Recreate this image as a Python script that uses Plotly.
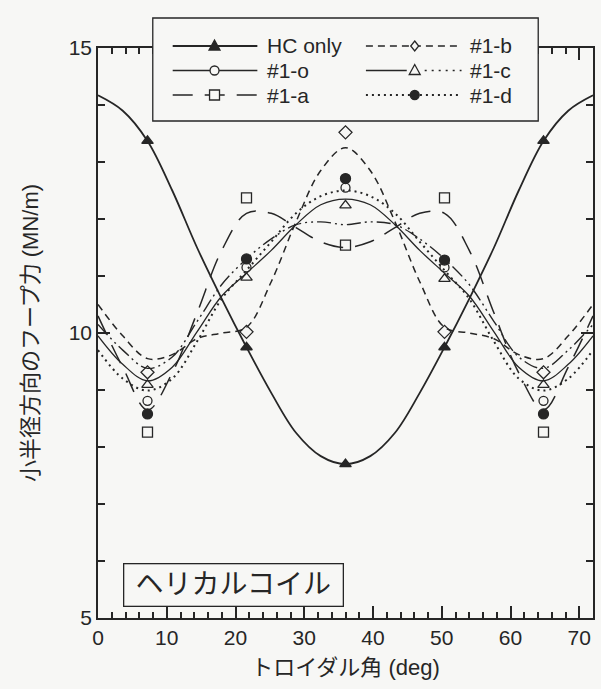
import plotly.graph_objects as go

# Toroidal angle grid for the smooth curves (deg)
angle_line = [0, 3.6, 7.2, 10.8, 14.4, 18, 21.6, 25.2, 28.8, 32.4, 36,
              39.6, 43.2, 46.8, 50.4, 54, 57.6, 61.2, 64.8, 68.4, 72]
# Toroidal angles of the computed points (deg)
angle_pts = [7.2, 21.6, 36, 50.4, 64.8]

# Hoop force in the minor-radius direction (MN/m)
hc_line = [14.17, 13.90, 13.37, 12.50, 11.50, 10.60, 9.75, 8.95, 8.25, 7.84, 7.70,
           7.84, 8.25, 8.95, 9.75, 10.60, 11.50, 12.50, 13.37, 13.90, 14.17]
hc_pts = [13.37, 9.75, 7.70, 9.75, 13.37]

o_line = [9.95, 9.45, 9.16, 9.40, 10.02, 10.65, 11.05, 11.45, 11.90, 12.25, 12.35,
          12.25, 11.90, 11.45, 11.05, 10.65, 10.02, 9.40, 9.16, 9.45, 9.95]
o_pts = [8.81, 11.15, 12.55, 11.15, 8.81]

a_line = [10.30, 9.40, 8.65, 9.30, 10.35, 11.45, 12.10, 12.10, 11.85, 11.60, 11.50,
          11.60, 11.85, 12.10, 12.10, 11.45, 10.35, 9.30, 8.65, 9.40, 10.30]
a_pts = [8.26, 12.37, 11.54, 12.37, 8.26]

b_line = [10.50, 9.95, 9.55, 9.62, 9.90, 10.00, 10.10, 10.90, 11.95, 12.85, 13.25,
          12.85, 11.95, 10.90, 10.10, 10.00, 9.90, 9.62, 9.55, 9.95, 10.50]
b_pts = [9.31, 10.02, 13.52, 10.02, 9.31]

c_line = [10.15, 9.70, 9.38, 9.58, 10.20, 10.85, 11.30, 11.65, 11.90, 11.95, 11.90,
          11.95, 11.90, 11.65, 11.30, 10.85, 10.20, 9.58, 9.38, 9.70, 10.15]
c_pts = [9.09, 10.97, 12.24, 10.95, 9.09]

d_line = [9.70, 9.20, 8.99, 9.20, 9.85, 10.60, 11.10, 11.60, 12.10, 12.40, 12.50,
          12.40, 12.10, 11.60, 11.10, 10.60, 9.85, 9.20, 8.99, 9.20, 9.70]
d_pts = [8.58, 11.30, 12.71, 11.28, 8.58]

INK = "#262626"
BG = "#f7f7f5"
FONT = "Liberation Sans, Arial, Noto Sans CJK JP, sans-serif"

# figure / plot-area geometry in pixels
W, H = 601, 689
ML, MR, MT, MB = 98, 6, 48, 71
PW, PH = W - ML - MR, H - MT - MB


def px(xpix):
    return (xpix - ML) / PW


def py(ypix):
    return (H - MB - ypix) / PH


# name, line values, point values, dash, line width, marker symbol, marker size
series = [
    ("HC only", hc_line, hc_pts, "solid", 1.8, "triangle-up", 10),
    ("#1-o", o_line, o_pts, "solid", 1.3, "circle-open", 9),
    ("#1-a", a_line, a_pts, "20px,12px", 1.5, "square-open", 10),
    ("#1-b", b_line, b_pts, "7px,5px", 1.5, "diamond-open", 10),
    ("#1-c", c_line, c_pts, "14px,4px,2px,4px,2px,4px", 1.4, "triangle-up-open", 10),
    ("#1-d", d_line, d_pts, "2px,4px", 2.0, "circle", 10),
]

fig = go.Figure()
for name, yl, yp, dash, lw, sym, ms in series:
    fig.add_trace(go.Scatter(
        x=angle_line, y=yl, mode="lines", line_shape="spline", name=name,
        line=dict(color=INK, width=lw, dash=dash),
        showlegend=False, hoverinfo="skip"))
    fig.add_trace(go.Scatter(
        x=angle_pts, y=yp, mode="markers", name=name,
        marker=dict(symbol=sym, size=ms, color=INK, line=dict(color=INK, width=1.3)),
        showlegend=False))

fig.update_xaxes(
    range=[0, 72], tickmode="linear", tick0=0, dtick=10,
    ticks="inside", ticklen=12, tickwidth=1.7, tickcolor=INK,
    minor=dict(tickmode="linear", tick0=0, dtick=2, ticks="inside", ticklen=6,
               tickwidth=1.5, tickcolor=INK, showgrid=False),
    showline=True, linecolor=INK, linewidth=1.6, mirror="ticks",
    showgrid=False, zeroline=False,
    tickfont=dict(family=FONT, size=21, color=INK),
    title=dict(text="トロイダル角 (deg)", font=dict(family=FONT, size=22, color=INK), standoff=12))
fig.update_yaxes(
    range=[5, 15], tickmode="linear", tick0=5, dtick=5,
    ticks="inside", ticklen=12, tickwidth=1.7, tickcolor=INK,
    minor=dict(tickmode="linear", tick0=5, dtick=1, ticks="inside", ticklen=7,
               tickwidth=1.5, tickcolor=INK, showgrid=False),
    showline=True, linecolor=INK, linewidth=1.6, mirror="ticks",
    showgrid=False, zeroline=False,
    tickfont=dict(family=FONT, size=21, color=INK),
    title=dict(text="小半径方向のフープ力 (MN/m)", font=dict(family=FONT, size=22, color=INK), standoff=24))

# ---- key box drawn with shapes and annotations ----
shapes = [dict(type="rect", xref="paper", yref="paper", layer="above",
               x0=px(153), x1=px(540), y0=py(121), y1=py(18),
               fillcolor=BG, line=dict(color=INK, width=1.3))]
annotations = []

rows = [46, 70.5, 95]
cols = [dict(x0=173, x1=258, xm=215, xt=266), dict(x0=367, x1=463, xm=416, xt=469)]
key_order = [("HC only", 0, 0), ("#1-o", 0, 1), ("#1-a", 0, 2),
             ("#1-b", 1, 0), ("#1-c", 1, 1), ("#1-d", 1, 2)]
style = {s[0]: s for s in series}


def marker_shape(sym, cx, cy):
    r = 5
    fill = INK if sym in ("triangle-up", "circle") else BG
    ln = dict(color=INK, width=1.3)
    if sym.startswith("triangle"):
        path = "M{},{} L{},{} L{},{} Z".format(
            px(cx), py(cy - r - 1), px(cx - r - 0.5), py(cy + r - 1), px(cx + r + 0.5), py(cy + r - 1))
        return dict(type="path", path=path, xref="paper", yref="paper", layer="above",
                    fillcolor=fill, line=ln)
    if sym.startswith("diamond"):
        path = "M{},{} L{},{} L{},{} L{},{} Z".format(
            px(cx), py(cy - r), px(cx + r - 1), py(cy), px(cx), py(cy + r), px(cx - r + 1), py(cy))
        return dict(type="path", path=path, xref="paper", yref="paper", layer="above",
                    fillcolor=fill, line=ln)
    if sym.startswith("square"):
        return dict(type="rect", xref="paper", yref="paper", layer="above",
                    x0=px(cx - r), x1=px(cx + r), y0=py(cy + r), y1=py(cy - r),
                    fillcolor=fill, line=ln)
    return dict(type="circle", xref="paper", yref="paper", layer="above",
                x0=px(cx - r + 0.5), x1=px(cx + r - 0.5), y0=py(cy + r - 0.5), y1=py(cy - r + 0.5),
                fillcolor=fill, line=ln)


for name, ci, ri in key_order:
    _, _, _, dash, lw, sym, _ = style[name]
    c = cols[ci]
    yrow = rows[ri]
    if name == "#1-c":
        # long stroke followed by dots
        shapes.append(dict(type="line", xref="paper", yref="paper", layer="above",
                           x0=px(c["x0"]), x1=px(c["xm"] - 8), y0=py(yrow), y1=py(yrow),
                           line=dict(color=INK, width=lw)))
        shapes.append(dict(type="line", xref="paper", yref="paper", layer="above",
                           x0=px(c["xm"] + 10), x1=px(c["x1"]), y0=py(yrow), y1=py(yrow),
                           line=dict(color=INK, width=lw, dash="2px,5px")))
    else:
        shapes.append(dict(type="line", xref="paper", yref="paper", layer="above",
                           x0=px(c["x0"]), x1=px(c["x1"]), y0=py(yrow), y1=py(yrow),
                           line=dict(color=INK, width=lw, dash=dash)))
    shapes.append(marker_shape(sym, c["xm"], yrow))
    annotations.append(dict(text=name, xref="paper", yref="paper", x=px(c["xt"]), y=py(yrow),
                            xanchor="left", yanchor="middle", showarrow=False,
                            font=dict(family=FONT, size=21, color=INK)))

annotations.append(dict(
    text="ヘリカルコイル", xref="paper", yref="paper", x=px(123), y=py(584.5),
    xanchor="left", yanchor="middle", showarrow=False, align="center",
    width=210, height=33,
    font=dict(family=FONT, size=28, color=INK),
    bordercolor=INK, borderwidth=1.3, borderpad=4, bgcolor=BG))

fig.update_layout(
    width=W, height=H,
    margin=dict(l=ML, r=MR, t=MT, b=MB),
    paper_bgcolor=BG, plot_bgcolor=BG,
    font=dict(family=FONT, color=INK),
    showlegend=False,
    shapes=shapes, annotations=annotations,
)

fig.write_html("out.html")
